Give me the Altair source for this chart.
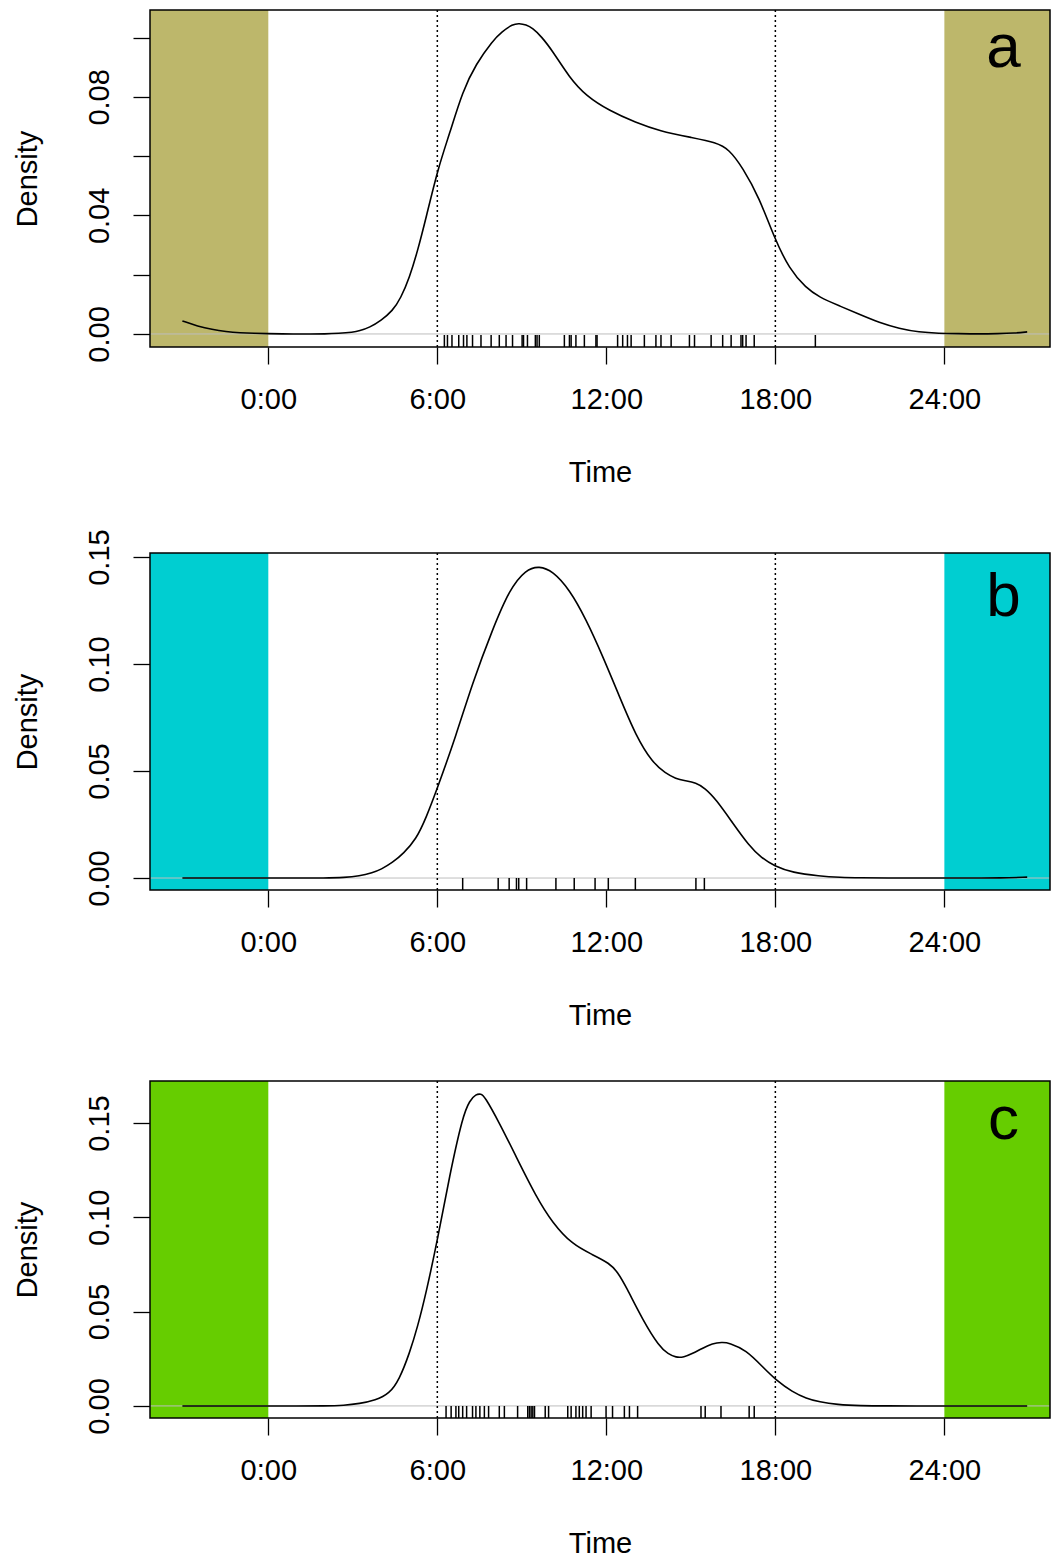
import altair as alt
import pandas as pd

# ---------------- data ----------------
hours_a = [-3.05, -2.5, -2.0, -1.5, -1.0, -0.5, 0.0, 0.5, 1.0, 1.5, 2.0, 2.5, 3.0, 3.23, 3.6, 4.0,
           4.41, 4.7, 5.01, 5.3, 5.6, 6.03, 6.43, 6.9, 7.37, 7.96, 8.3, 8.67, 8.91, 9.15, 9.38, 9.7,
           10.09, 10.69, 11.28, 12.11, 13.05, 13.88, 15.06, 15.89, 16.36, 16.84, 17.43, 17.96, 18.5,
           19.09, 19.56, 20.27, 20.98, 21.69, 22.4, 23.1, 23.8, 24.5, 25.2, 25.9, 26.5, 26.94]
dens_a = [0.0044, 0.0026, 0.0015, 0.0008, 0.0004, 0.0002, 0.0001, 0.0, 0.0, 0.0, 0.0, 0.0002, 0.0006,
          0.001, 0.0022, 0.0045, 0.0078, 0.012, 0.019, 0.028, 0.0392, 0.0561, 0.0674, 0.082, 0.091,
          0.0989, 0.102, 0.1045, 0.1048, 0.1043, 0.1032, 0.1003, 0.0955, 0.0865, 0.0803, 0.0753,
          0.0713, 0.0685, 0.0662, 0.0646, 0.0623, 0.0561, 0.046, 0.0325, 0.0218, 0.0155, 0.0124,
          0.0095, 0.0066, 0.0038, 0.0018, 0.0006, 0.0002, 0.0001, 0.0, 0.0001, 0.0003, 0.0007]
rug_a = [6.25, 6.36, 6.52, 6.76, 6.93, 7.05, 7.25, 7.55, 7.91, 8.20, 8.44, 8.67, 9.01, 9.06, 9.20,
         9.48, 9.54, 9.62, 10.51, 10.69, 10.75, 10.92, 11.22, 11.63, 11.67, 12.40, 12.58, 12.75,
         12.88, 13.35, 13.76, 13.94, 14.30, 14.95, 15.13, 15.72, 16.13, 16.43, 16.78, 16.84, 16.96,
         17.25, 19.42]

hours_b = [-3.05, -2.0, -1.0, 0.0, 1.0, 2.0, 2.7, 3.23, 3.7, 4.0, 4.41, 4.8, 5.24, 5.6, 6.03, 6.66,
           7.25, 7.96, 8.56, 9.15, 9.62, 10.09, 10.69, 11.28, 11.87, 12.46, 13.05, 13.64, 14.1, 14.47,
           14.8, 15.18, 15.5, 15.89, 16.48, 17.07, 17.5, 17.96, 18.61, 19.56, 20.3, 21.0, 22.0, 23.0,
           24.0, 25.0, 26.0, 26.94]
dens_b = [0.0, 0.0, 0.0, 0.0, 0.0, 0.0, 0.0002, 0.0009, 0.0025, 0.004, 0.0072, 0.0115, 0.018, 0.028,
          0.043, 0.0664, 0.0913, 0.1162, 0.1349, 0.1443, 0.1458, 0.1435, 0.1349, 0.1209, 0.1037,
          0.085, 0.0664, 0.0539, 0.049, 0.0464, 0.0455, 0.0445, 0.042, 0.0368, 0.0258, 0.015,
          0.0095, 0.0056, 0.0025, 0.0009, 0.0003, 0.0001, 0.0, 0.0, 0.0, 0.0, 0.0, 0.0004]
rug_b = [6.90, 8.16, 8.55, 8.81, 8.89, 9.17, 10.21, 10.86, 11.60, 12.07, 13.03, 15.18, 15.48]

hours_c = [-3.05, -2.0, -1.0, 0.0, 1.0, 2.0, 2.7, 3.23, 3.8, 4.3, 4.65, 5.01, 5.3, 5.6, 6.03, 6.43,
           6.9, 7.15, 7.37, 7.55, 7.67, 8.2, 8.79, 9.5, 10.09, 10.8, 11.51, 12.11, 12.4, 12.7, 13.29,
           13.88, 14.2, 14.47, 14.75, 15.06, 15.4, 15.77, 16.1, 16.36, 16.96, 17.55, 18.02, 18.61,
           19.1, 19.56, 20.2, 21.0, 22.0, 23.0, 24.0, 25.0, 26.0, 26.94]
dens_c = [0.0, 0.0, 0.0, 0.0, 0.0, 0.0, 0.0003, 0.0012, 0.003, 0.0065, 0.014, 0.0278, 0.042, 0.0597,
          0.0899, 0.1218, 0.1537, 0.162, 0.1653, 0.1655, 0.1644, 0.1502, 0.1324, 0.1112, 0.097,
          0.0855, 0.0802, 0.0757, 0.071, 0.0633, 0.0456, 0.0314, 0.0275, 0.0257, 0.0258, 0.0278,
          0.0305, 0.0331, 0.0338, 0.0335, 0.0296, 0.0207, 0.0137, 0.0074, 0.004, 0.0021, 0.0007,
          0.0001, 0.0, 0.0, 0.0, 0.0, 0.0, 0.0]
rug_c = [6.31, 6.49, 6.66, 6.76, 6.90, 7.04, 7.25, 7.37, 7.51, 7.67, 7.82, 8.20, 8.38, 8.85, 9.21,
         9.27, 9.33, 9.39, 9.45, 9.83, 9.95, 10.63, 10.75, 10.92, 11.04, 11.16, 11.28, 11.46, 11.99,
         12.22, 12.64, 12.82, 13.11, 15.36, 15.51, 16.07, 17.07, 17.25]

x_ticks = [0, 6, 12, 18, 24]
dotted_at = [6, 18]
shade_from = [-4.2, 24]
shade_to = [0, 27.75]

panel_letters = ["a", "b", "c"]
letter_x = [26.1, 26.1, 26.1]
letter_y = [0.0965, 0.1315, 0.1515]
fills = ["#BDB76B", "#00CED1", "#66CD00"]
y_domains = [[-0.0044, 0.1093], [-0.0056, 0.1519], [-0.0064, 0.1723]]
y_ticks = [[0, 0.02, 0.04, 0.06, 0.08, 0.10], [0, 0.05, 0.10, 0.15], [0, 0.05, 0.10, 0.15]]
label_exprs = [
    "round(datum.value*100) % 4 == 0 ? format(datum.value, '.2f') : ''",
    "format(datum.value, '.2f')",
    "format(datum.value, '.2f')",
]

W = 900
H = 337
XDOM = [-4.2, 27.75]
FONT = "Liberation Sans"


def panel(i, hours, dens, rug):
    xs = alt.Scale(domain=XDOM, nice=False, zero=False)
    ys = alt.Scale(domain=y_domains[i], nice=False, zero=False)
    x_axis = alt.Axis(values=x_ticks, labelExpr="datum.value + ':00'", title="Time",
                      labelPadding=21, titleY=134, titleBaseline="alphabetic",
                      labelOverlap=False, labelFlush=False)
    y_axis = alt.Axis(values=y_ticks[i], labelExpr=label_exprs[i], title="Density",
                      labelAngle=270, labelAlign="center", labelBaseline="alphabetic",
                      labelPadding=25, titleX=-114, titleY=H / 2, titleBaseline="alphabetic",
                      titleAngle=270, labelOverlap=False, labelFlush=False)

    def X(field):
        return alt.X(field, scale=xs, axis=x_axis)

    def Y(field):
        return alt.Y(field, scale=ys, axis=y_axis)

    curve_df = pd.DataFrame({"h": hours, "d": dens})
    rug_df = pd.DataFrame({"h": rug, "d": [0.0] * len(rug)})
    shade_df = pd.DataFrame({"h": shade_from, "h2": shade_to,
                             "d": [y_domains[i][0]] * 2, "d2": [y_domains[i][1]] * 2})
    dot_df = pd.DataFrame({"h": dotted_at, "d": [y_domains[i][0]] * 2, "d2": [y_domains[i][1]] * 2})
    zero_df = pd.DataFrame({"h": [XDOM[0]], "h2": [XDOM[1]], "d": [0.0]})
    lab_df = pd.DataFrame({"h": [letter_x[i]], "d": [letter_y[i]], "t": [panel_letters[i]]})

    shades = alt.Chart(shade_df).mark_rect(color=fills[i]).encode(
        x=X("h:Q"), x2="h2:Q", y=Y("d:Q"), y2="d2:Q")
    zero = alt.Chart(zero_df).mark_rule(color="#BEBEBE", strokeWidth=1).encode(
        x=X("h:Q"), x2="h2:Q", y=Y("d:Q"))
    dots = alt.Chart(dot_df).mark_rule(color="black", strokeDash=[2, 3], strokeWidth=1.5).encode(
        x=X("h:Q"), y=Y("d:Q"), y2="d2:Q")
    curve = alt.Chart(curve_df).mark_line(color="black", strokeWidth=1.6, interpolate="basis").encode(
        x=X("h:Q"), y=Y("d:Q"))
    rugs = alt.Chart(rug_df).mark_rule(color="black", strokeWidth=1.5).encode(
        x=X("h:Q"), y=alt.value(H), y2=alt.value(H - 12))
    letter = alt.Chart(lab_df).mark_text(font=FONT, fontSize=62, color="black",
                                          align="center", baseline="middle").encode(
        x=X("h:Q"), y=Y("d:Q"), text="t:N")
    border = alt.Chart(lab_df).mark_rect(filled=False, stroke="black", strokeWidth=1.5).encode(
        x=alt.value(0), x2=alt.value(W), y=alt.value(0), y2=alt.value(H))

    return alt.layer(shades, zero, dots, curve, rugs, letter, border).properties(width=W, height=H)


pa = panel(0, hours_a, dens_a, rug_a)
pb = panel(1, hours_b, dens_b, rug_b)
pc = panel(2, hours_c, dens_c, rug_c)

inner = alt.vconcat(pb, pc, spacing=191, bounds="flush")
chart = alt.vconcat(pa, inner, spacing=206, bounds="flush").properties(
    padding={"left": 5, "top": 1, "right": 0, "bottom": 5}
).configure_view(strokeWidth=0).configure_axis(
    labelFont=FONT, titleFont=FONT, labelFontSize=29, titleFontSize=29,
    titleFontWeight="normal", labelColor="black", titleColor="black",
    tickColor="black", tickSize=17, tickWidth=1.3, domain=False, grid=False
)

chart.save("out.html", embed_options={"renderer": "svg", "actions": False})
